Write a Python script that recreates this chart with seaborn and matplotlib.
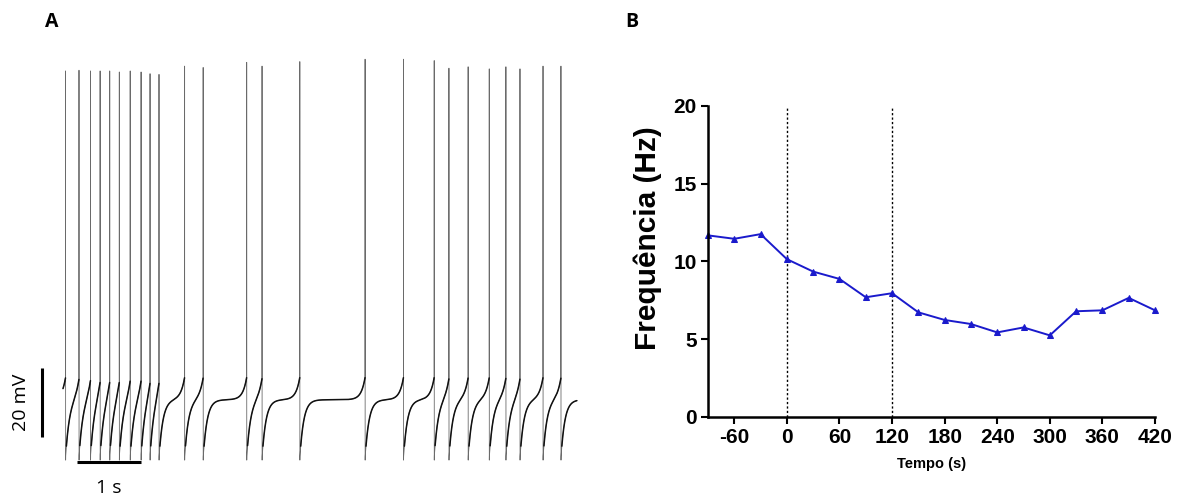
import numpy as np
import pandas as pd
import matplotlib
matplotlib.use("Agg")
import matplotlib.pyplot as plt
import seaborn as sns

# ---------------- data ----------------
# Panel A: spike times (s) and spike peak potentials (mV)
spike_times = [0.04, 0.25, 0.43, 0.58, 0.73, 0.88, 1.05, 1.22, 1.36, 1.50,
               1.90, 2.19, 2.87, 3.11, 3.70, 4.72, 5.32, 5.80, 6.03, 6.33,
               6.66, 6.92, 7.14, 7.50, 7.78]
spike_peaks = [44.8, 45.0, 44.8, 44.8, 44.8, 44.5, 44.8, 44.5, 44.0, 43.8,
               46.2, 45.8, 47.3, 46.2, 47.5, 48.2, 48.2, 47.8, 45.6, 46.0,
               45.4, 46.0, 45.4, 46.2, 46.2]
trace_end = 8.03          # s
v_trough = -67.5          # mV, after-hyperpolarisation
v_plateau = -50.5         # mV
v_threshold = -44.0       # mV

# Panel B
tempo = [-90, -60, -30, 0, 30, 60, 90, 120, 150, 180, 210, 240, 270, 300,
         330, 360, 390, 420]
frequencia = [11.68, 11.46, 11.76, 10.15, 9.35, 8.88, 7.70, 7.96, 6.73, 6.24,
              5.98, 5.44, 5.76, 5.25, 6.80, 6.86, 7.66, 6.86]
x_ticks = [-60, 0, 60, 120, 180, 240, 300, 360, 420]
y_ticks = [0, 5, 10, 15, 20]
marks = [0, 120]

# ---------------- build trace from spike times ----------------
dt = 0.001
t = np.arange(0, trace_end, dt)
v = np.empty_like(t)
tau1, tau2 = 0.06, 0.06
starts = [-0.3] + spike_times
ends = spike_times + [trace_end + 0.5]
for s0, s1 in zip(starts, ends):
    m = (t >= s0) & (t < s1)
    tt = t[m]
    rec = v_trough + (v_plateau - v_trough) * (1 - np.exp(-(tt - s0) / tau1))
    ramp = (v_threshold - v_plateau) * np.exp(-(s1 - tt) / tau2)
    v[m] = rec + ramp
for st, pk in zip(spike_times, spike_peaks):
    i = int(round(st / dt))
    v[i] = pk
    v[i + 1] = v_trough - 0.5
trace = pd.DataFrame({"t": t, "v": v})
sub = trace.copy()
sub.loc[sub["v"] > -42.5, "v"] = np.nan
sub.loc[sub["v"] < -64.0, "v"] = np.nan

dfB = pd.DataFrame({"Tempo": tempo, "Freq": frequencia})

# ---------------- figure ----------------
sns.set_theme(style="ticks")
plt.rcParams["font.family"] = ["Liberation Sans", "DejaVu Sans"]
plt.rcParams["text.color"] = "black"
plt.rcParams["axes.labelcolor"] = "black"

fig = plt.figure(figsize=(11.83, 5.04), dpi=100)

# Panel A
axA = fig.add_axes([10 / 1183, 34 / 504, 580 / 1183, 420 / 504])
sns.lineplot(data=trace, x="t", y="v", ax=axA, color="#6a6a6a", lw=0.6,
             estimator=None, sort=False)
axA.plot(sub["t"], sub["v"], color="#111111", lw=1.1)
axA.set_xlim(-0.828, 8.234)
axA.set_ylim(-70.87, 50.87)
axA.axis("off")
# scale bars
axA.plot([-0.328, -0.328], [-61.3, -41.3], color="black", lw=2.2,
         solid_capstyle="butt", clip_on=False)
axA.plot([0.22, 1.22], [-68.55, -68.55], color="black", lw=2.2,
         solid_capstyle="butt", clip_on=False)
axA.text(-0.66, -51.3, "20 mV", rotation=90, ha="center", va="center",
         fontsize=14, color="black", family=["Open Sans", "DejaVu Sans"])
axA.text(0.72, -73.6, "1 s", ha="center", va="top", color="black",
         fontsize=14, family=["Open Sans", "DejaVu Sans"], clip_on=False)

fig.text(52 / 1183, 1 - 22 / 504, "A", fontsize=14, fontweight="bold",
         ha="center", va="center", color="black",
         family=["Open Sans", "DejaVu Sans"])
fig.text(632 / 1183, 1 - 22 / 504, "B", fontsize=14, fontweight="bold",
         ha="center", va="center", color="black",
         family=["Open Sans", "DejaVu Sans"])

# Panel B
axB = fig.add_axes([708 / 1183, 87 / 504, 447 / 1183, 311 / 504])
for mk in marks:
    axB.axvline(mk, ymin=0, ymax=1, color="black", lw=1.0, ls=(0, (1.6, 1.6)))
sns.lineplot(data=dfB, x="Tempo", y="Freq", ax=axB, color="#1a1acc", lw=1.4,
             marker="^", markersize=5, markeredgecolor="#1a1acc",
             clip_on=False)
axB.set_xlim(-90, 420)
axB.set_ylim(0, 20)
axB.set_xticks(x_ticks)
axB.set_yticks(y_ticks)
axB.set_xticklabels([str(x) for x in x_ticks], fontsize=15, fontweight="bold")
axB.set_yticklabels([str(y) for y in y_ticks], fontsize=15, fontweight="bold")
axB.set_xlabel("Tempo (s)", fontsize=10.5, fontweight="bold", labelpad=7,
               color="black")
axB.set_ylabel("Frequência (Hz)", fontsize=21.5, fontweight="bold",
               color="black")
axB.yaxis.set_label_coords(-0.103, 0.576)
sns.despine(ax=axB)
for sp in ["left", "bottom"]:
    axB.spines[sp].set_linewidth(1.8)
    axB.spines[sp].set_color("black")
axB.tick_params(axis="both", direction="out", length=5, width=1.5, pad=3,
                colors="black")

fig.savefig("out.png", dpi=100)
